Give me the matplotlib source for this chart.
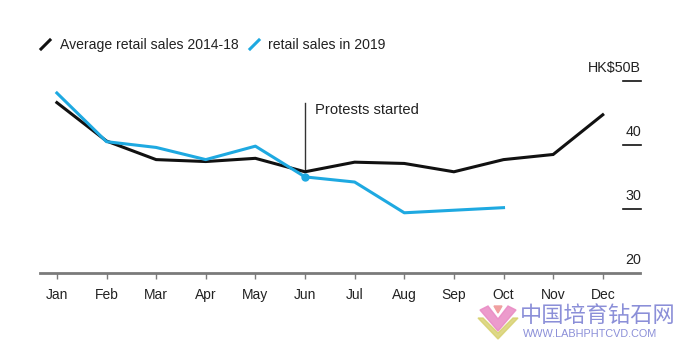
import matplotlib
matplotlib.use("Agg")
import matplotlib.pyplot as plt
from matplotlib.patches import Polygon
import matplotlib.transforms as mtransforms

months = ["Jan", "Feb", "Mar", "Apr", "May", "Jun", "Jul", "Aug", "Sep", "Oct", "Nov", "Dec"]
avg_2014_18 = [46.6, 40.6, 37.7, 37.4, 37.9, 35.8, 37.3, 37.1, 35.8, 37.7, 38.5, 44.7]
sales_2019 = [48.1, 40.5, 39.6, 37.7, 39.8, 35.0, 34.2, 29.4, 29.8, 30.2]
y_ticks = [20, 30, 40, 50]
y_tick_labels = ["20", "30", "40", "HK$50B"]

plt.rcParams['font.family'] = ['Liberation Sans', 'DejaVu Sans']

BLACK = "#111111"
BLUE = "#1ea9e1"
GRAY = "#7a7a7a"

fig = plt.figure(figsize=(6.77, 3.41), dpi=100)
ax = fig.add_axes([40/677, (341-273)/341, 600/677, (273-68)/341])

x = list(range(len(months)))
ax.plot(x, avg_2014_18, color=BLACK, lw=2.2, solid_joinstyle='miter', zorder=3)
ax.plot(x[:len(sales_2019)], sales_2019, color=BLUE, lw=2.2, zorder=4)
ax.plot([5], [sales_2019[5]], 'o', color=BLUE, ms=5, zorder=5)

ax.set_xlim(-0.34, 11.75)
ax.set_ylim(20, 52)

for s in ["top", "right", "left"]:
    ax.spines[s].set_visible(False)
ax.spines["bottom"].set_color(GRAY)
ax.spines["bottom"].set_linewidth(2)
ax.set_yticks([])
ax.set_xticks(x)
ax.set_xticklabels(months, fontsize=10, color="#222222")
ax.tick_params(axis='x', direction='out', length=4, width=1, color=GRAY, pad=7)

# right-side value labels with short dashes
trans = mtransforms.blended_transform_factory(ax.transAxes, ax.transData)
for v, lab in zip(y_ticks, y_tick_labels):
    ax.text(1.002, v + 2.0, lab, transform=trans, ha='right', va='center',
            fontsize=10.3, color="#222222", clip_on=False)
    if v != 20:
        ax.plot([0.972, 1.001], [v, v], transform=trans, color=BLACK, lw=1.2, clip_on=False)

# annotation
ax.plot([5, 5], [35.8, 46.6], color="#333333", lw=1, zorder=2)
ax.text(5.2, 45.5, "Protests started", fontsize=10.6, color="#222222", va='center', ha='left')

# legend
fig.lines.append(plt.Line2D([41/677, 50/677], [1-49/341, 1-40/341], color=BLACK, lw=2.2, transform=fig.transFigure))
fig.text(60/677, 1-45/341, "Average retail sales 2014-18", fontsize=10.1, va='center', color="#222222")
fig.lines.append(plt.Line2D([250/677, 259/677], [1-49/341, 1-40/341], color=BLUE, lw=2.2, transform=fig.transFigure))
fig.text(268/677, 1-45/341, "retail sales in 2019", fontsize=10.1, va='center', color="#222222")

# watermark
def fp(px, py):
    return (px/677, 1-py/341)
fig.patches.append(Polygon([fp(478, 318), fp(498, 339), fp(518, 318), fp(513, 318), fp(498, 333), fp(483, 318)],
                           closed=True, color="#d6cf6a", transform=fig.transFigure, alpha=0.8))
fig.patches.append(Polygon([fp(480, 310), fp(498, 331), fp(516, 310), fp(508, 306), fp(498, 319), fp(488, 306)],
                           closed=True, color="#e98ac4", transform=fig.transFigure, alpha=0.85))
fig.patches.append(Polygon([fp(494, 306), fp(502, 306), fp(498, 313)],
                           closed=True, color="#f0a0a0", transform=fig.transFigure))
fig.text(520/677, 1-315/341, "中国培育钻石网", fontsize=16, color="#8b8fd8", va='center', ha='left',
         family=['Noto Sans CJK SC', 'DejaVu Sans'])
fig.text(523/677, 1-334/341, "WWW.LABHPHTCVD.COM", fontsize=7.8, color="#8b8fd8", va='center', ha='left')

fig.savefig("out.png", dpi=100)
